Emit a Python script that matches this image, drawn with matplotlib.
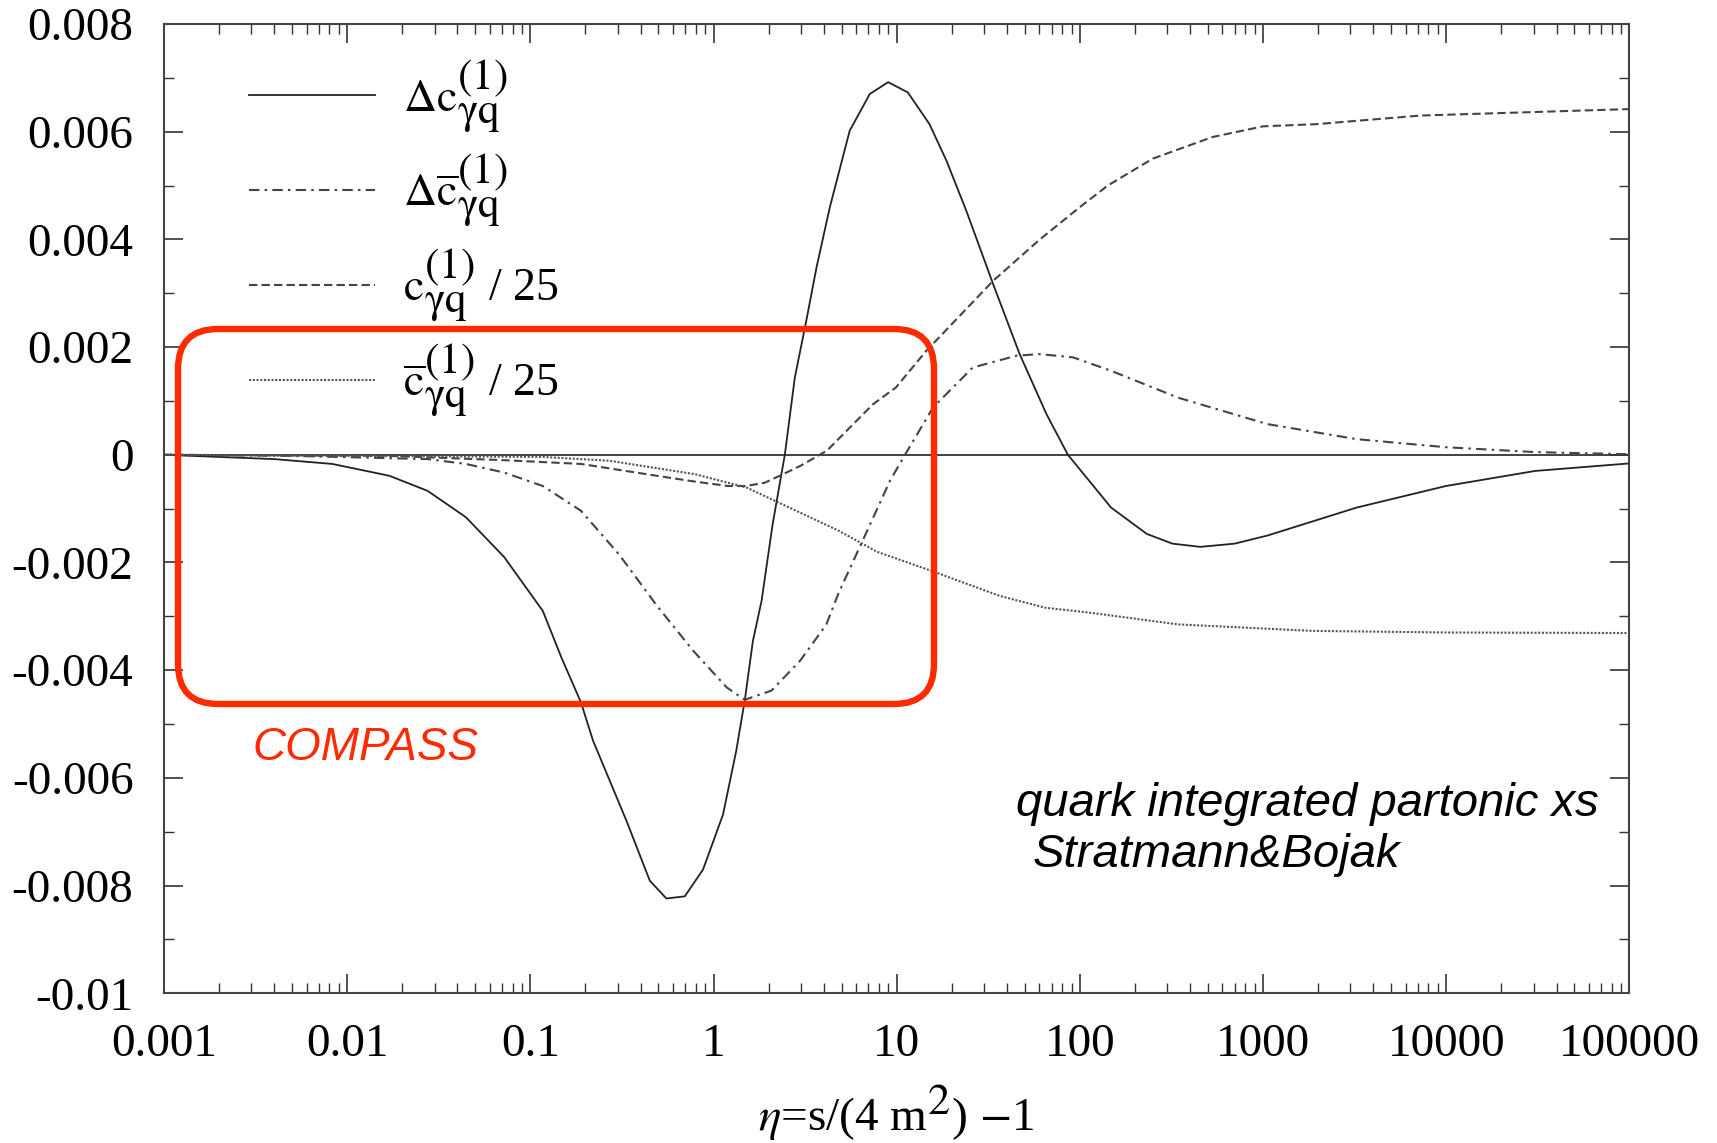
import numpy as np
import matplotlib
matplotlib.use('Agg')
import matplotlib.pyplot as plt
import matplotlib._mathtext as mathtext_core
from matplotlib.patches import FancyBboxPatch
from matplotlib.ticker import LogLocator, NullFormatter, MultipleLocator

# --- values (eta, value) ---
eta_dc = [1e-3, 0.004, 0.0083, 0.017, 0.0275, 0.0445, 0.072, 0.117, 0.148,
          0.189, 0.22, 0.335, 0.449, 0.553, 0.697, 0.877, 1.127, 1.33, 1.48,
          1.64, 1.83, 2.1, 2.45, 2.78, 3.21, 3.65, 4.31, 5.54, 7.13, 8.98,
          11.5, 15.1, 18.7, 24, 33.6, 46.9, 65.6, 86, 148, 232, 320, 455, 700,
          1056, 3245, 9950, 30560, 1e5]
val_dc = [0.0, -0.00008, -0.00017, -0.00039, -0.00067, -0.00116, -0.0019,
          -0.0029, -0.00377, -0.0046, -0.00531, -0.0068, -0.00791, -0.00824,
          -0.0082, -0.0077, -0.00668, -0.0055, -0.00457, -0.00346, -0.00271,
          -0.0013, 0.0, 0.00144, 0.00249, 0.00348, 0.00459, 0.00602, 0.0067,
          0.00692, 0.00673, 0.00614, 0.00546, 0.00453, 0.00317, 0.00187,
          0.00076, 0.0, -0.00098, -0.00147, -0.00165, -0.00171, -0.00165,
          -0.0015, -0.00098, -0.00058, -0.0003, -0.00016]

eta_dcbar = [1e-3, 0.005, 0.0275, 0.0445, 0.072, 0.117, 0.189, 0.305, 0.49,
             0.775, 1.18, 1.48, 2.07, 2.96, 3.35, 4.13, 4.8, 6.9, 9.2, 11.1,
             15.8, 26, 45, 60, 91.6, 148, 344, 1056, 3245, 1e4, 30560, 1e5]
val_dcbar = [0.0, -0.00002, -0.00008, -0.00017, -0.00033, -0.00058, -0.00104,
             -0.00185, -0.0028, -0.00364, -0.00432, -0.00455, -0.00438,
             -0.00383, -0.00358, -0.00315, -0.00258, -0.00141, -0.00048, 0.0,
             0.00088, 0.00162, 0.00184, 0.00187, 0.00181, 0.00156, 0.00106,
             0.00057, 0.00029, 0.00014, 0.00005, 0.00001]

eta_c = [1e-3, 0.017, 0.072, 0.189, 0.49, 0.8, 1.2, 1.5, 1.9, 2.4, 3.0, 3.8,
         4.17, 7.43, 9.9, 14.5, 33.6, 60.5, 100, 142, 250, 528, 1000, 1955,
         7240, 26850, 1e5]
val_c = [0.0, -0.00002, -0.0001, -0.00017, -0.00039, -0.0005, -0.00058,
         -0.00058, -0.00052, -0.00036, -0.0002, 0.0, 0.00008, 0.00094,
         0.00125, 0.00193, 0.00323, 0.004, 0.0046, 0.005, 0.0055, 0.0059,
         0.0061, 0.00614, 0.0063, 0.00636, 0.00642]

eta_cbar = [1e-3, 0.117, 0.27, 0.79, 1.52, 4.82, 7.8, 15.3, 36.5, 64.6, 112,
            344, 1850, 1e4, 1e5]
val_cbar = [0.0, -0.00004, -0.00011, -0.00036, -0.00061, -0.00141, -0.0018,
            -0.00215, -0.00262, -0.00284, -0.00293, -0.00315, -0.00327,
            -0.0033, -0.00331]

LABELS = [r'$\Delta\mathrm{c}_{\mathrm{\gamma q}}^{(1)}$',
          r'$\Delta\overline{\mathrm{c}}_{\mathrm{\gamma q}}^{(1)}$',
          r'$\mathrm{c}_{\mathrm{\gamma q}}^{(1)}$ / 25',
          r'$\overline{\mathrm{c}}_{\mathrm{\gamma q}}^{(1)}$ / 25']

X_TICKS = [1e-3, 1e-2, 1e-1, 1, 10, 100, 1e3, 1e4, 1e5]
X_TICK_LABELS = ['0.001', '0.01', '0.1', '1', '10', '100', '1000', '10000',
                 '100000']
Y_TICKS = [0.008, 0.006, 0.004, 0.002, 0, -0.002, -0.004, -0.006, -0.008,
           -0.01]
Y_TICK_LABELS = ['0.008', '0.006', '0.004', '0.002', '0', '-0.002', '-0.004',
                 '-0.006', '-0.008', '-0.01']

RED = '#ff2a00'
FS = 34

# scripts in the original are set almost at full size
mathtext_core.SHRINK_FACTOR = 0.94

plt.rcParams['font.family'] = ['Liberation Serif', 'DejaVu Serif']
plt.rcParams['mathtext.fontset'] = 'stix'

fig = plt.figure(figsize=(17.17, 11.43), dpi=100)
ax = fig.add_axes([0.0955, 0.131, 0.8535, 0.848])

ax.axhline(0, color='#333333', lw=1.3, zorder=1)
ax.plot(eta_dc, val_dc, color='#222222', lw=1.3, label=LABELS[0])
ax.plot(eta_dcbar, val_dcbar, color='#444444', lw=1.5,
        dashes=(5, 2.5, 1.2, 2.5), label=LABELS[1])
ax.plot(eta_c, val_c, color='#444444', lw=1.5, dashes=(4, 2), label=LABELS[2])
ax.plot(eta_cbar, val_cbar, color='#555555', lw=1.5, dashes=(1, 0.8),
        label=LABELS[3])

ax.set_xscale('log')
ax.set_xlim(1e-3, 1e5)
ax.set_ylim(-0.01, 0.008)
ax.set_xticks(X_TICKS)
ax.set_xticklabels(X_TICK_LABELS)
ax.xaxis.set_minor_locator(LogLocator(base=10, subs=np.arange(2, 10), numticks=100))
ax.xaxis.set_minor_formatter(NullFormatter())
ax.set_yticks(Y_TICKS)
ax.set_yticklabels(Y_TICK_LABELS)
ax.yaxis.set_minor_locator(MultipleLocator(0.001))

ax.tick_params(which='both', direction='in', top=True, right=True,
               labelsize=FS, color='#333333')
ax.tick_params(which='major', length=14, width=1.2, pad=22)
ax.tick_params(which='minor', length=7, width=1.0)
for s in ax.spines.values():
    s.set_linewidth(1.5)
    s.set_color('#444444')

ax.set_xlabel(r'$\eta$=s/(4 m$^2$) $-$1', fontsize=FS, labelpad=11)

ax.legend(loc='upper left', bbox_to_anchor=(0.058, 0.965), frameon=False,
          fontsize=33, handlelength=2.75, handletextpad=0.6, labelspacing=0.4,
          borderpad=0, borderaxespad=0)

# red rounded box (figure inches)
box = FancyBboxPatch((1.78, 4.39), 7.56, 3.75,
                     boxstyle='round,pad=0,rounding_size=0.4',
                     transform=fig.dpi_scale_trans, fill=False,
                     edgecolor=RED, lw=4.6, zorder=10)
fig.patches.append(box)

fig.text(0.1468, 0.3456, 'COMPASS', color=RED, fontsize=33,
         family='Liberation Sans', style='italic', va='center', ha='left')
fig.text(0.5917, 0.2861, 'quark integrated partonic xs', fontsize=34,
         family='Liberation Sans', style='italic', va='baseline', ha='left')
fig.text(0.6016, 0.2415, 'Stratmann&Bojak', fontsize=34,
         family='Liberation Sans', style='italic', va='baseline', ha='left')

fig.savefig('out.png', dpi=100)
